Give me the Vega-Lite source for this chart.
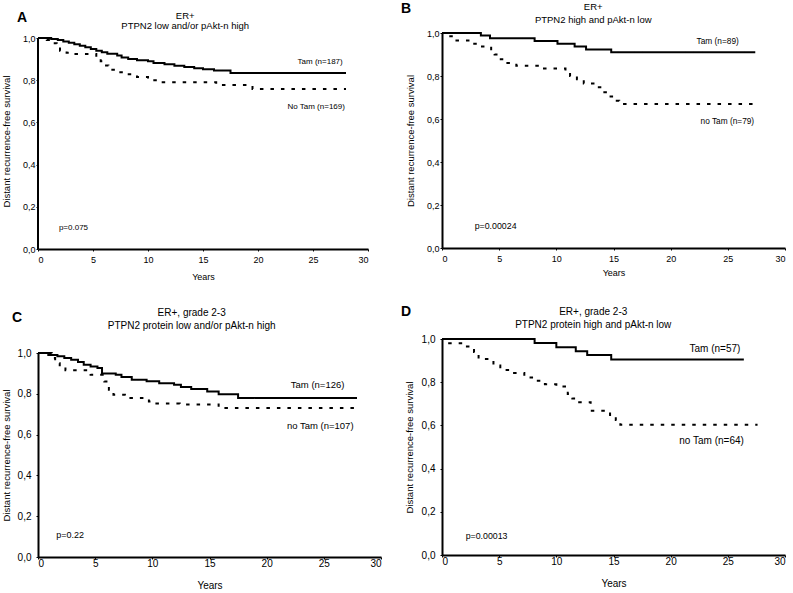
{
  "$schema": "https://vega.github.io/schema/vega-lite/v6.json",
  "padding": {"left": 1, "top": 1, "right": 0, "bottom": 0},
  "background": "white",
  "config": {
    "font": "Liberation Sans",
    "view": {"stroke": null},
    "axis": {"domainColor": "black", "domainWidth": 2, "tickColor": "black", "tickSize": 2, "tickWidth": 1, "labelColor": "black", "titleColor": "black", "grid": false, "titleFontWeight": "normal", "labelFont": "Liberation Sans", "titleFont": "Liberation Sans"},
    "title": {"fontWeight": "normal", "color": "black", "font": "Liberation Sans", "frame": "bounds", "anchor": "middle"},
    "text": {"font": "Liberation Sans", "color": "black"}
  },
  "datasets": {
    "km": [
      {"panel": "A", "group": "Tam", "t": 0, "s": 1},
      {"panel": "A", "group": "Tam", "t": 1.2, "s": 0.995},
      {"panel": "A", "group": "Tam", "t": 1.8, "s": 0.99},
      {"panel": "A", "group": "Tam", "t": 2.3, "s": 0.983},
      {"panel": "A", "group": "Tam", "t": 2.8, "s": 0.977},
      {"panel": "A", "group": "Tam", "t": 3.3, "s": 0.97},
      {"panel": "A", "group": "Tam", "t": 3.8, "s": 0.963},
      {"panel": "A", "group": "Tam", "t": 4.3, "s": 0.956},
      {"panel": "A", "group": "Tam", "t": 4.8, "s": 0.948},
      {"panel": "A", "group": "Tam", "t": 5.3, "s": 0.94},
      {"panel": "A", "group": "Tam", "t": 5.8, "s": 0.932},
      {"panel": "A", "group": "Tam", "t": 6.3, "s": 0.925},
      {"panel": "A", "group": "Tam", "t": 7.2, "s": 0.917},
      {"panel": "A", "group": "Tam", "t": 7.6, "s": 0.908},
      {"panel": "A", "group": "Tam", "t": 8.2, "s": 0.9},
      {"panel": "A", "group": "Tam", "t": 9.0, "s": 0.895},
      {"panel": "A", "group": "Tam", "t": 10.0, "s": 0.89},
      {"panel": "A", "group": "Tam", "t": 10.5, "s": 0.882},
      {"panel": "A", "group": "Tam", "t": 11.5, "s": 0.876},
      {"panel": "A", "group": "Tam", "t": 12.4, "s": 0.869},
      {"panel": "A", "group": "Tam", "t": 13.3, "s": 0.862},
      {"panel": "A", "group": "Tam", "t": 14.2, "s": 0.857},
      {"panel": "A", "group": "Tam", "t": 15.0, "s": 0.852},
      {"panel": "A", "group": "Tam", "t": 16.0, "s": 0.846},
      {"panel": "A", "group": "Tam", "t": 17.5, "s": 0.834},
      {"panel": "A", "group": "Tam", "t": 28, "s": 0.834},
      {"panel": "A", "group": "No Tam", "t": 0, "s": 1},
      {"panel": "A", "group": "No Tam", "t": 0.8, "s": 0.99},
      {"panel": "A", "group": "No Tam", "t": 1.4, "s": 0.975},
      {"panel": "A", "group": "No Tam", "t": 1.7, "s": 0.955},
      {"panel": "A", "group": "No Tam", "t": 2.0, "s": 0.94},
      {"panel": "A", "group": "No Tam", "t": 2.6, "s": 0.93},
      {"panel": "A", "group": "No Tam", "t": 3.0, "s": 0.924},
      {"panel": "A", "group": "No Tam", "t": 5.3, "s": 0.91},
      {"panel": "A", "group": "No Tam", "t": 5.7, "s": 0.89},
      {"panel": "A", "group": "No Tam", "t": 6.0, "s": 0.87},
      {"panel": "A", "group": "No Tam", "t": 6.4, "s": 0.85},
      {"panel": "A", "group": "No Tam", "t": 7.0, "s": 0.838},
      {"panel": "A", "group": "No Tam", "t": 8.0, "s": 0.828},
      {"panel": "A", "group": "No Tam", "t": 9.0, "s": 0.815},
      {"panel": "A", "group": "No Tam", "t": 10.0, "s": 0.8},
      {"panel": "A", "group": "No Tam", "t": 11.0, "s": 0.79},
      {"panel": "A", "group": "No Tam", "t": 16.2, "s": 0.777},
      {"panel": "A", "group": "No Tam", "t": 19.5, "s": 0.758},
      {"panel": "A", "group": "No Tam", "t": 28, "s": 0.758},
      {"panel": "B", "group": "Tam", "t": 0, "s": 1},
      {"panel": "B", "group": "Tam", "t": 3.4, "s": 0.988},
      {"panel": "B", "group": "Tam", "t": 4.2, "s": 0.976},
      {"panel": "B", "group": "Tam", "t": 8.1, "s": 0.963},
      {"panel": "B", "group": "Tam", "t": 10.1, "s": 0.95},
      {"panel": "B", "group": "Tam", "t": 11.6, "s": 0.937},
      {"panel": "B", "group": "Tam", "t": 12.6, "s": 0.923},
      {"panel": "B", "group": "Tam", "t": 14.8, "s": 0.91},
      {"panel": "B", "group": "Tam", "t": 27.4, "s": 0.91},
      {"panel": "B", "group": "No Tam", "t": 0, "s": 1},
      {"panel": "B", "group": "No Tam", "t": 0.6, "s": 0.985},
      {"panel": "B", "group": "No Tam", "t": 1.0, "s": 0.965},
      {"panel": "B", "group": "No Tam", "t": 2.6, "s": 0.95},
      {"panel": "B", "group": "No Tam", "t": 3.5, "s": 0.937},
      {"panel": "B", "group": "No Tam", "t": 4.3, "s": 0.918},
      {"panel": "B", "group": "No Tam", "t": 4.6, "s": 0.9},
      {"panel": "B", "group": "No Tam", "t": 4.9, "s": 0.878},
      {"panel": "B", "group": "No Tam", "t": 5.5, "s": 0.86},
      {"panel": "B", "group": "No Tam", "t": 6.5, "s": 0.848},
      {"panel": "B", "group": "No Tam", "t": 8.6, "s": 0.835},
      {"panel": "B", "group": "No Tam", "t": 10.8, "s": 0.815},
      {"panel": "B", "group": "No Tam", "t": 11.2, "s": 0.8},
      {"panel": "B", "group": "No Tam", "t": 11.8, "s": 0.785},
      {"panel": "B", "group": "No Tam", "t": 12.4, "s": 0.765},
      {"panel": "B", "group": "No Tam", "t": 13.5, "s": 0.748},
      {"panel": "B", "group": "No Tam", "t": 14.2, "s": 0.725},
      {"panel": "B", "group": "No Tam", "t": 14.6, "s": 0.705},
      {"panel": "B", "group": "No Tam", "t": 15.0, "s": 0.685},
      {"panel": "B", "group": "No Tam", "t": 15.5, "s": 0.67},
      {"panel": "B", "group": "No Tam", "t": 27.4, "s": 0.67},
      {"panel": "C", "group": "Tam", "t": 0, "s": 1},
      {"panel": "C", "group": "Tam", "t": 0.9, "s": 0.99},
      {"panel": "C", "group": "Tam", "t": 1.7, "s": 0.984},
      {"panel": "C", "group": "Tam", "t": 2.3, "s": 0.975},
      {"panel": "C", "group": "Tam", "t": 2.9, "s": 0.967},
      {"panel": "C", "group": "Tam", "t": 3.5, "s": 0.956},
      {"panel": "C", "group": "Tam", "t": 4.0, "s": 0.943},
      {"panel": "C", "group": "Tam", "t": 4.6, "s": 0.934},
      {"panel": "C", "group": "Tam", "t": 5.2, "s": 0.926},
      {"panel": "C", "group": "Tam", "t": 5.6, "s": 0.9},
      {"panel": "C", "group": "Tam", "t": 6.8, "s": 0.893},
      {"panel": "C", "group": "Tam", "t": 7.3, "s": 0.882},
      {"panel": "C", "group": "Tam", "t": 8.2, "s": 0.869},
      {"panel": "C", "group": "Tam", "t": 9.5, "s": 0.861},
      {"panel": "C", "group": "Tam", "t": 10.6, "s": 0.852},
      {"panel": "C", "group": "Tam", "t": 11.9, "s": 0.844},
      {"panel": "C", "group": "Tam", "t": 12.5, "s": 0.833},
      {"panel": "C", "group": "Tam", "t": 13.4, "s": 0.823},
      {"panel": "C", "group": "Tam", "t": 14.8, "s": 0.811},
      {"panel": "C", "group": "Tam", "t": 15.8, "s": 0.798},
      {"panel": "C", "group": "Tam", "t": 17.5, "s": 0.779},
      {"panel": "C", "group": "Tam", "t": 27.9, "s": 0.779},
      {"panel": "C", "group": "No Tam", "t": 0, "s": 1},
      {"panel": "C", "group": "No Tam", "t": 1.2, "s": 0.975},
      {"panel": "C", "group": "No Tam", "t": 1.5, "s": 0.95},
      {"panel": "C", "group": "No Tam", "t": 1.9, "s": 0.932},
      {"panel": "C", "group": "No Tam", "t": 2.4, "s": 0.915},
      {"panel": "C", "group": "No Tam", "t": 4.6, "s": 0.893},
      {"panel": "C", "group": "No Tam", "t": 5.8, "s": 0.86},
      {"panel": "C", "group": "No Tam", "t": 6.2, "s": 0.82},
      {"panel": "C", "group": "No Tam", "t": 6.6, "s": 0.795},
      {"panel": "C", "group": "No Tam", "t": 7.6, "s": 0.779},
      {"panel": "C", "group": "No Tam", "t": 9.7, "s": 0.762},
      {"panel": "C", "group": "No Tam", "t": 10.0, "s": 0.752},
      {"panel": "C", "group": "No Tam", "t": 12.4, "s": 0.748},
      {"panel": "C", "group": "No Tam", "t": 15.8, "s": 0.73},
      {"panel": "C", "group": "No Tam", "t": 27.9, "s": 0.73},
      {"panel": "D", "group": "Tam", "t": 0, "s": 1},
      {"panel": "D", "group": "Tam", "t": 8.1, "s": 0.981},
      {"panel": "D", "group": "Tam", "t": 10.0, "s": 0.962},
      {"panel": "D", "group": "Tam", "t": 11.7, "s": 0.943},
      {"panel": "D", "group": "Tam", "t": 12.7, "s": 0.926},
      {"panel": "D", "group": "Tam", "t": 14.8, "s": 0.905},
      {"panel": "D", "group": "Tam", "t": 26.4, "s": 0.905},
      {"panel": "D", "group": "No Tam", "t": 0, "s": 1},
      {"panel": "D", "group": "No Tam", "t": 0.5, "s": 0.98},
      {"panel": "D", "group": "No Tam", "t": 1.8, "s": 0.965},
      {"panel": "D", "group": "No Tam", "t": 2.8, "s": 0.94},
      {"panel": "D", "group": "No Tam", "t": 3.2, "s": 0.907},
      {"panel": "D", "group": "No Tam", "t": 4.5, "s": 0.877},
      {"panel": "D", "group": "No Tam", "t": 5.1, "s": 0.857},
      {"panel": "D", "group": "No Tam", "t": 6.0, "s": 0.843},
      {"panel": "D", "group": "No Tam", "t": 7.2, "s": 0.822},
      {"panel": "D", "group": "No Tam", "t": 8.0, "s": 0.807},
      {"panel": "D", "group": "No Tam", "t": 9.0, "s": 0.79},
      {"panel": "D", "group": "No Tam", "t": 10.0, "s": 0.78},
      {"panel": "D", "group": "No Tam", "t": 11.0, "s": 0.745},
      {"panel": "D", "group": "No Tam", "t": 11.4, "s": 0.725},
      {"panel": "D", "group": "No Tam", "t": 12.0, "s": 0.707},
      {"panel": "D", "group": "No Tam", "t": 13.0, "s": 0.668},
      {"panel": "D", "group": "No Tam", "t": 14.3, "s": 0.655},
      {"panel": "D", "group": "No Tam", "t": 14.7, "s": 0.64},
      {"panel": "D", "group": "No Tam", "t": 15.2, "s": 0.625},
      {"panel": "D", "group": "No Tam", "t": 15.6, "s": 0.603},
      {"panel": "D", "group": "No Tam", "t": 27.6, "s": 0.603}
    ]
  },
  "spacing": 18,
  "hconcat": [
    {
      "spacing": 27,
      "vconcat": [
        {
          "width": 330, "height": 216,
          "title": {"text": ["ER+", "PTPN2 low and/or pAkt-n high"], "fontSize": 9.5, "lineHeight": 10, "offset": -19.3},
          "layer": [
            {
              "data": {"name": "km"},
              "transform": [{"filter": "datum.panel == 'A'"}],
              "mark": {"type": "line", "interpolate": "step-after", "strokeWidth": 2, "color": "black", "strokeCap": "butt"},
              "encoding": {
                "x": {"field": "t", "type": "quantitative", "scale": {"domain": [0, 30], "nice": false}, "axis": {"values": [0, 5, 10, 15, 20, 25, 30], "title": "Years", "labelFontSize": 9, "titleFontSize": 9, "labelPadding": 4, "titlePadding": 8}},
                "y": {"field": "s", "type": "quantitative", "scale": {"domain": [0, 1.0237], "nice": false}, "axis": {"domain": false, "values": [0, 0.2, 0.4, 0.6, 0.8, 1], "labelExpr": "replace(format(datum.value, '.1f'), '.', ',')", "title": "Distant recurrence-free survival", "labelFontSize": 9, "titleFontSize": 9.5, "labelPadding": 1, "titlePadding": 10.5}},
                "strokeDash": {"field": "group", "type": "nominal", "scale": {"domain": ["Tam", "No Tam"], "range": [[1, 0], [3.5, 7]]}, "legend": null}
              }
            },
            {"data": {"values": [{}]}, "mark": {"type": "rule", "strokeWidth": 2, "color": "black"}, "encoding": {"x": {"datum": 0}, "y": {"datum": 0}, "y2": {"datum": 1}}},
            {"data": {"values": [{}]}, "mark": {"type": "text", "text": "Tam  (n=187)", "align": "right", "baseline": "middle", "fontSize": 8}, "encoding": {"x": {"datum": 27.7}, "y": {"datum": 0.886}}},
            {"data": {"values": [{}]}, "mark": {"type": "text", "text": "No Tam  (n=169)", "align": "right", "baseline": "middle", "fontSize": 8}, "encoding": {"x": {"datum": 27.9}, "y": {"datum": 0.673}}},
            {"data": {"values": [{}]}, "mark": {"type": "text", "text": "p=0.075", "align": "left", "baseline": "middle", "fontSize": 8}, "encoding": {"x": {"datum": 1.9}, "y": {"datum": 0.1}}},
            {"data": {"values": [{}]}, "mark": {"type": "text", "text": "A", "align": "left", "baseline": "middle", "fontSize": 14, "fontWeight": "bold"}, "encoding": {"x": {"datum": -1.9}, "y": {"datum": 1.095}}}
          ]
        },
        {
          "width": 343, "height": 204,
          "title": {"text": ["ER+, grade 2-3", "PTPN2 protein low and/or pAkt-n high"], "fontSize": 10, "lineHeight": 13.3, "offset": -20.4},
          "layer": [
            {
              "data": {"name": "km"},
              "transform": [{"filter": "datum.panel == 'C'"}],
              "mark": {"type": "line", "interpolate": "step-after", "strokeWidth": 2, "color": "black", "strokeCap": "butt"},
              "encoding": {
                "x": {"field": "t", "type": "quantitative", "scale": {"domain": [0, 30], "nice": false}, "axis": {"values": [0, 5, 10, 15, 20, 25, 30], "title": "Years", "labelFontSize": 10, "titleFontSize": 10, "labelPadding": -1, "titlePadding": 12}},
                "y": {"field": "s", "type": "quantitative", "scale": {"domain": [0, 1], "nice": false}, "axis": {"values": [0, 0.2, 0.4, 0.6, 0.8, 1], "labelExpr": "replace(format(datum.value, '.1f'), '.', ',')", "title": "Distant recurrence-free survival", "labelFontSize": 10, "titleFontSize": 9.5, "labelPadding": 5, "titlePadding": 5.3}},
                "strokeDash": {"field": "group", "type": "nominal", "scale": {"domain": ["Tam", "No Tam"], "range": [[1, 0], [3.5, 7]]}, "legend": null}
              }
            },
            {"data": {"values": [{}]}, "mark": {"type": "text", "text": "Tam (n=126)", "align": "right", "baseline": "middle", "fontSize": 9.5}, "encoding": {"x": {"datum": 26.8}, "y": {"datum": 0.843}}},
            {"data": {"values": [{}]}, "mark": {"type": "text", "text": "no Tam (n=107)", "align": "right", "baseline": "middle", "fontSize": 9.5}, "encoding": {"x": {"datum": 27.6}, "y": {"datum": 0.642}}},
            {"data": {"values": [{}]}, "mark": {"type": "text", "text": "p=0.22", "align": "left", "baseline": "middle", "fontSize": 9}, "encoding": {"x": {"datum": 1.6}, "y": {"datum": 0.108}}},
            {"data": {"values": [{}]}, "mark": {"type": "text", "text": "C", "align": "left", "baseline": "middle", "fontSize": 14, "fontWeight": "bold"}, "encoding": {"x": {"datum": -2.28}, "y": {"datum": 1.172}}}
          ]
        }
      ]
    },
    {
      "spacing": 28,
      "vconcat": [
        {
          "width": 343, "height": 215,
          "title": {"text": ["ER+", "PTPN2 high and pAkt-n low"], "fontSize": 9.5, "lineHeight": 12.5, "offset": -22.3},
          "layer": [
            {
              "data": {"name": "km"},
              "transform": [{"filter": "datum.panel == 'B'"}],
              "mark": {"type": "line", "interpolate": "step-after", "strokeWidth": 2, "color": "black", "strokeCap": "butt"},
              "encoding": {
                "x": {"field": "t", "type": "quantitative", "scale": {"domain": [0, 30], "nice": false}, "axis": {"values": [0, 5, 10, 15, 20, 25, 30], "title": "Years", "labelFontSize": 9, "titleFontSize": 9, "labelPadding": 4, "titlePadding": 5}},
                "y": {"field": "s", "type": "quantitative", "scale": {"domain": [0, 1], "nice": false}, "axis": {"values": [0, 0.2, 0.4, 0.6, 0.8, 1], "labelExpr": "replace(format(datum.value, '.1f'), '.', ',')", "title": "Distant recurrence-free survival", "labelFontSize": 9, "titleFontSize": 9.5, "labelPadding": 1, "titlePadding": 10.5}},
                "strokeDash": {"field": "group", "type": "nominal", "scale": {"domain": ["Tam", "No Tam"], "range": [[1, 0], [3, 6.5]]}, "legend": null}
              }
            },
            {"data": {"values": [{}]}, "mark": {"type": "text", "text": "Tam (n=89)", "align": "right", "baseline": "middle", "fontSize": 8.3}, "encoding": {"x": {"datum": 25.96}, "y": {"datum": 0.96}}},
            {"data": {"values": [{}]}, "mark": {"type": "text", "text": "no Tam (n=79)", "align": "right", "baseline": "middle", "fontSize": 8.3}, "encoding": {"x": {"datum": 27.3}, "y": {"datum": 0.585}}},
            {"data": {"values": [{}]}, "mark": {"type": "text", "text": "p=0.00024", "align": "left", "baseline": "middle", "fontSize": 8.8}, "encoding": {"x": {"datum": 2.86}, "y": {"datum": 0.104}}},
            {"data": {"values": [{}]}, "mark": {"type": "text", "text": "B", "align": "left", "baseline": "middle", "fontSize": 14, "fontWeight": "bold"}, "encoding": {"x": {"datum": -3.59}, "y": {"datum": 1.112}}}
          ]
        },
        {
          "width": 343, "height": 216,
          "title": {"text": ["ER+, grade 2-3", "PTPN2 protein high and pAkt-n low"], "fontSize": 10, "lineHeight": 13.3, "offset": -25.4},
          "layer": [
            {
              "data": {"name": "km"},
              "transform": [{"filter": "datum.panel == 'D'"}],
              "mark": {"type": "line", "interpolate": "step-after", "strokeWidth": 2, "color": "black", "strokeCap": "butt"},
              "encoding": {
                "x": {"field": "t", "type": "quantitative", "scale": {"domain": [0, 30], "nice": false}, "axis": {"values": [0, 5, 10, 15, 20, 25, 30], "title": "Years", "labelFontSize": 10, "titleFontSize": 10, "labelPadding": -1, "titlePadding": 12}},
                "y": {"field": "s", "type": "quantitative", "scale": {"domain": [0, 1], "nice": false}, "axis": {"values": [0, 0.2, 0.4, 0.6, 0.8, 1], "labelExpr": "replace(format(datum.value, '.1f'), '.', ',')", "title": "Distant recurrence-free survival", "labelFontSize": 10, "titleFontSize": 9.5, "labelPadding": 5, "titlePadding": 7}},
                "strokeDash": {"field": "group", "type": "nominal", "scale": {"domain": ["Tam", "No Tam"], "range": [[1, 0], [3, 6.5]]}, "legend": null}
              }
            },
            {"data": {"values": [{}]}, "mark": {"type": "text", "text": "Tam (n=57)", "align": "right", "baseline": "middle", "fontSize": 10}, "encoding": {"x": {"datum": 26.1}, "y": {"datum": 0.954}}},
            {"data": {"values": [{}]}, "mark": {"type": "text", "text": "no Tam (n=64)", "align": "right", "baseline": "middle", "fontSize": 10}, "encoding": {"x": {"datum": 26.4}, "y": {"datum": 0.53}}},
            {"data": {"values": [{}]}, "mark": {"type": "text", "text": "p=0.00013", "align": "left", "baseline": "middle", "fontSize": 8.8}, "encoding": {"x": {"datum": 2.07}, "y": {"datum": 0.087}}},
            {"data": {"values": [{}]}, "mark": {"type": "text", "text": "D", "align": "left", "baseline": "middle", "fontSize": 14, "fontWeight": "bold"}, "encoding": {"x": {"datum": -3.59}, "y": {"datum": 1.125}}}
          ]
        }
      ]
    }
  ]
}
